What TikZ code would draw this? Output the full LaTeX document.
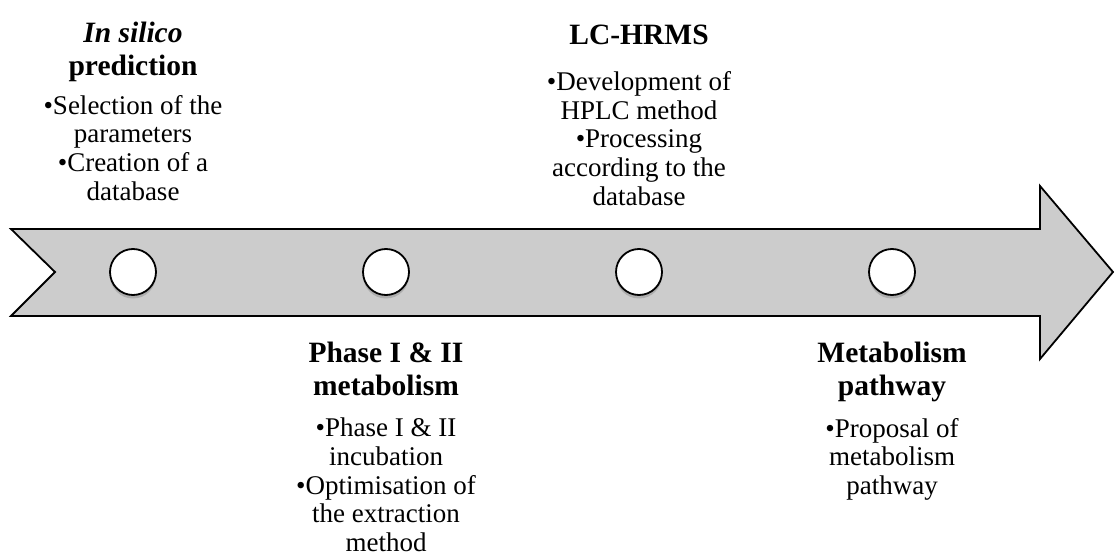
\documentclass[tikz,border=0pt]{standalone}
\usepackage{fontspec}
\setmainfont{Liberation Serif}
\begin{document}
\begin{tikzpicture}[x=1pt,y=-1pt,
  titlebox/.style={align=center,inner sep=0pt,anchor=north,font=\fontsize{29.5}{33}\selectfont\bfseries},
  bodybox/.style={align=center,inner sep=0pt,anchor=north,font=\fontsize{27}{28.6}\selectfont},
  dot/.style={circle,draw=black,line width=1.8pt,fill=white,minimum size=46pt,inner sep=0pt},
  shadowdot/.style={circle,fill=black,opacity=0.15,minimum size=46pt,inner sep=0pt}]
\useasboundingbox (0,0) rectangle (1115,553);
% arrow
\draw[line width=1.8pt,fill=black!20,line join=miter]
  (11,229) -- (1040,229) -- (1040,186) -- (1113,272) -- (1040,359) -- (1040,316)
  -- (11,316) -- (55,272) -- cycle;
% circles
\foreach \x/\n in {133/c1,386/c2,639/c3,892/c4}{
  \node[shadowdot] (s\n) at (\x,275.5) {};
  \node[dot] (\n) at (\x,272) {};
}
% stage 1
\node[titlebox] (t1) at (133,22) {\textit{In silico}\\prediction};
\node[bodybox] (b1) at (133,95) {•Selection of the\\parameters\\•Creation of a\\database};
% stage 3
\node[titlebox] (t3) at (639,25) {LC-HRMS};
\node[bodybox] (b3) at (639,71.5) {•Development of\\HPLC method\\•Processing\\according to the\\database};
% stage 2
\node[titlebox] (t2) at (386,342) {Phase I \& II\\metabolism};
\node[bodybox] (b2) at (386,418) {•Phase I \& II\\incubation\\•Optimisation of\\the extraction\\method};
% stage 4
\node[titlebox] (t4) at (892,342) {Metabolism\\pathway};
\node[bodybox] (b4) at (892,418) {•Proposal of\\metabolism\\pathway};
\end{tikzpicture}
\end{document}
